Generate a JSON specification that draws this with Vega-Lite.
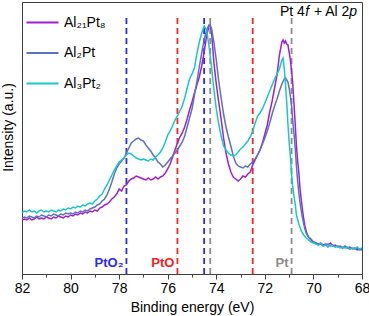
{
"$schema": "https://vega.github.io/schema/vega-lite/v6.json",
"width": 340, "height": 272,
"autosize": {"type": "none"},
"padding": {"left": 22, "top": 2, "right": 7, "bottom": 42},
"background": "white",
"config": {
  "font": "Liberation Sans",
  "view": {"stroke": "#404040", "strokeWidth": 1},
  "axis": {"domainColor": "#404040", "tickColor": "#404040", "labelColor": "black", "titleColor": "black", "grid": false, "labelFont": "Liberation Sans", "titleFont": "Liberation Sans", "titleFontWeight": "normal", "labelFontSize": 14, "titleFontSize": 14}
},
"datasets": {
"refs": [
  {"be": 77.7, "c": "PtO2"}, {"be": 74.5, "c": "PtO2"},
  {"be": 75.6, "c": "PtO"}, {"be": 72.5, "c": "PtO"},
  {"be": 74.25, "c": "Pt"}, {"be": 70.9, "c": "Pt"}
],
"tags": [
  {"t": "PtO₂", "be": 77.7, "c": "PtO2"},
  {"t": "PtO", "be": 75.6, "c": "PtO"},
  {"t": "Pt", "be": 70.9, "c": "Pt"}
],
"note": [{"k": "Pt 4f + Al 2p"}],
"spectra": [
{"s":"Al₂₁Pt₈","be":82.0,"i":54},{"s":"Al₂₁Pt₈","be":81.9,"i":55},{"s":"Al₂₁Pt₈","be":81.8,"i":54},{"s":"Al₂₁Pt₈","be":81.7,"i":56},{"s":"Al₂₁Pt₈","be":81.6,"i":54},{"s":"Al₂₁Pt₈","be":81.5,"i":55},{"s":"Al₂₁Pt₈","be":81.4,"i":57},{"s":"Al₂₁Pt₈","be":81.3,"i":55},{"s":"Al₂₁Pt₈","be":81.2,"i":56},{"s":"Al₂₁Pt₈","be":81.1,"i":55},
{"s":"Al₂₁Pt₈","be":81.0,"i":57},{"s":"Al₂₁Pt₈","be":80.9,"i":56},{"s":"Al₂₁Pt₈","be":80.8,"i":55},{"s":"Al₂₁Pt₈","be":80.7,"i":57},{"s":"Al₂₁Pt₈","be":80.6,"i":56},{"s":"Al₂₁Pt₈","be":80.5,"i":58},{"s":"Al₂₁Pt₈","be":80.4,"i":57},{"s":"Al₂₁Pt₈","be":80.3,"i":56},{"s":"Al₂₁Pt₈","be":80.2,"i":58},{"s":"Al₂₁Pt₈","be":80.1,"i":57},
{"s":"Al₂₁Pt₈","be":80.0,"i":59},{"s":"Al₂₁Pt₈","be":79.9,"i":58},{"s":"Al₂₁Pt₈","be":79.8,"i":60},{"s":"Al₂₁Pt₈","be":79.7,"i":59},{"s":"Al₂₁Pt₈","be":79.6,"i":61},{"s":"Al₂₁Pt₈","be":79.5,"i":60},{"s":"Al₂₁Pt₈","be":79.4,"i":62},{"s":"Al₂₁Pt₈","be":79.3,"i":61},{"s":"Al₂₁Pt₈","be":79.2,"i":63},{"s":"Al₂₁Pt₈","be":79.1,"i":62},
{"s":"Al₂₁Pt₈","be":79.0,"i":64},{"s":"Al₂₁Pt₈","be":78.9,"i":63},{"s":"Al₂₁Pt₈","be":78.8,"i":66},{"s":"Al₂₁Pt₈","be":78.7,"i":67},{"s":"Al₂₁Pt₈","be":78.6,"i":69},{"s":"Al₂₁Pt₈","be":78.5,"i":70},{"s":"Al₂₁Pt₈","be":78.4,"i":72},{"s":"Al₂₁Pt₈","be":78.3,"i":75},{"s":"Al₂₁Pt₈","be":78.2,"i":77},{"s":"Al₂₁Pt₈","be":78.1,"i":80},
{"s":"Al₂₁Pt₈","be":78.0,"i":85},{"s":"Al₂₁Pt₈","be":77.9,"i":83},{"s":"Al₂₁Pt₈","be":77.8,"i":88},{"s":"Al₂₁Pt₈","be":77.7,"i":89},{"s":"Al₂₁Pt₈","be":77.6,"i":93},{"s":"Al₂₁Pt₈","be":77.5,"i":95},{"s":"Al₂₁Pt₈","be":77.4,"i":96},{"s":"Al₂₁Pt₈","be":77.3,"i":98},{"s":"Al₂₁Pt₈","be":77.2,"i":97},{"s":"Al₂₁Pt₈","be":77.1,"i":96},
{"s":"Al₂₁Pt₈","be":77.0,"i":95},{"s":"Al₂₁Pt₈","be":76.9,"i":94},{"s":"Al₂₁Pt₈","be":76.8,"i":96},{"s":"Al₂₁Pt₈","be":76.7,"i":94},{"s":"Al₂₁Pt₈","be":76.6,"i":95},{"s":"Al₂₁Pt₈","be":76.5,"i":97},{"s":"Al₂₁Pt₈","be":76.4,"i":95},{"s":"Al₂₁Pt₈","be":76.3,"i":97},{"s":"Al₂₁Pt₈","be":76.2,"i":98},{"s":"Al₂₁Pt₈","be":76.1,"i":101},
{"s":"Al₂₁Pt₈","be":76.0,"i":105},{"s":"Al₂₁Pt₈","be":75.9,"i":110},{"s":"Al₂₁Pt₈","be":75.8,"i":117},{"s":"Al₂₁Pt₈","be":75.7,"i":124},{"s":"Al₂₁Pt₈","be":75.6,"i":131},{"s":"Al₂₁Pt₈","be":75.5,"i":137},{"s":"Al₂₁Pt₈","be":75.4,"i":141},{"s":"Al₂₁Pt₈","be":75.3,"i":147},{"s":"Al₂₁Pt₈","be":75.2,"i":155},{"s":"Al₂₁Pt₈","be":75.1,"i":164},
{"s":"Al₂₁Pt₈","be":75.0,"i":172},{"s":"Al₂₁Pt₈","be":74.9,"i":181},{"s":"Al₂₁Pt₈","be":74.8,"i":189},{"s":"Al₂₁Pt₈","be":74.7,"i":197},{"s":"Al₂₁Pt₈","be":74.6,"i":208},{"s":"Al₂₁Pt₈","be":74.5,"i":222},{"s":"Al₂₁Pt₈","be":74.4,"i":238},{"s":"Al₂₁Pt₈","be":74.3,"i":248},{"s":"Al₂₁Pt₈","be":74.25,"i":249},{"s":"Al₂₁Pt₈","be":74.2,"i":244},
{"s":"Al₂₁Pt₈","be":74.1,"i":212},{"s":"Al₂₁Pt₈","be":74.0,"i":190},{"s":"Al₂₁Pt₈","be":73.9,"i":172},{"s":"Al₂₁Pt₈","be":73.8,"i":155},{"s":"Al₂₁Pt₈","be":73.7,"i":136},{"s":"Al₂₁Pt₈","be":73.6,"i":121},{"s":"Al₂₁Pt₈","be":73.5,"i":110},{"s":"Al₂₁Pt₈","be":73.4,"i":102},{"s":"Al₂₁Pt₈","be":73.3,"i":97},{"s":"Al₂₁Pt₈","be":73.2,"i":95},
{"s":"Al₂₁Pt₈","be":73.1,"i":93},{"s":"Al₂₁Pt₈","be":73.0,"i":95},{"s":"Al₂₁Pt₈","be":72.9,"i":98},{"s":"Al₂₁Pt₈","be":72.8,"i":97},{"s":"Al₂₁Pt₈","be":72.7,"i":100},{"s":"Al₂₁Pt₈","be":72.6,"i":102},{"s":"Al₂₁Pt₈","be":72.5,"i":109},{"s":"Al₂₁Pt₈","be":72.4,"i":114},{"s":"Al₂₁Pt₈","be":72.3,"i":119},{"s":"Al₂₁Pt₈","be":72.2,"i":124},
{"s":"Al₂₁Pt₈","be":72.1,"i":131},{"s":"Al₂₁Pt₈","be":72.0,"i":140},{"s":"Al₂₁Pt₈","be":71.9,"i":149},{"s":"Al₂₁Pt₈","be":71.8,"i":162},{"s":"Al₂₁Pt₈","be":71.7,"i":173},{"s":"Al₂₁Pt₈","be":71.6,"i":186},{"s":"Al₂₁Pt₈","be":71.5,"i":199},{"s":"Al₂₁Pt₈","be":71.4,"i":219},{"s":"Al₂₁Pt₈","be":71.3,"i":232},{"s":"Al₂₁Pt₈","be":71.25,"i":234},
{"s":"Al₂₁Pt₈","be":71.2,"i":231},{"s":"Al₂₁Pt₈","be":71.15,"i":233},{"s":"Al₂₁Pt₈","be":71.1,"i":230},{"s":"Al₂₁Pt₈","be":71.05,"i":229},{"s":"Al₂₁Pt₈","be":71.0,"i":222},{"s":"Al₂₁Pt₈","be":70.95,"i":214},{"s":"Al₂₁Pt₈","be":70.9,"i":203},{"s":"Al₂₁Pt₈","be":70.85,"i":190},{"s":"Al₂₁Pt₈","be":70.8,"i":170},{"s":"Al₂₁Pt₈","be":70.75,"i":150},
{"s":"Al₂₁Pt₈","be":70.7,"i":128},{"s":"Al₂₁Pt₈","be":70.65,"i":113},{"s":"Al₂₁Pt₈","be":70.6,"i":101},{"s":"Al₂₁Pt₈","be":70.55,"i":85},{"s":"Al₂₁Pt₈","be":70.5,"i":74},{"s":"Al₂₁Pt₈","be":70.45,"i":64},{"s":"Al₂₁Pt₈","be":70.4,"i":55},{"s":"Al₂₁Pt₈","be":70.35,"i":48},{"s":"Al₂₁Pt₈","be":70.3,"i":43},{"s":"Al₂₁Pt₈","be":70.25,"i":39},
{"s":"Al₂₁Pt₈","be":70.2,"i":37},{"s":"Al₂₁Pt₈","be":70.1,"i":34},{"s":"Al₂₁Pt₈","be":70.0,"i":32},{"s":"Al₂₁Pt₈","be":69.9,"i":31},{"s":"Al₂₁Pt₈","be":69.8,"i":30},{"s":"Al₂₁Pt₈","be":69.7,"i":31},{"s":"Al₂₁Pt₈","be":69.6,"i":29},{"s":"Al₂₁Pt₈","be":69.5,"i":30},{"s":"Al₂₁Pt₈","be":69.4,"i":29},{"s":"Al₂₁Pt₈","be":69.3,"i":31},
{"s":"Al₂₁Pt₈","be":69.2,"i":28},{"s":"Al₂₁Pt₈","be":69.1,"i":29},{"s":"Al₂₁Pt₈","be":69.0,"i":27},{"s":"Al₂₁Pt₈","be":68.9,"i":28},{"s":"Al₂₁Pt₈","be":68.8,"i":26},{"s":"Al₂₁Pt₈","be":68.7,"i":27},{"s":"Al₂₁Pt₈","be":68.6,"i":26},{"s":"Al₂₁Pt₈","be":68.5,"i":27},{"s":"Al₂₁Pt₈","be":68.4,"i":25},{"s":"Al₂₁Pt₈","be":68.3,"i":26},
{"s":"Al₂₁Pt₈","be":68.2,"i":24},{"s":"Al₂₁Pt₈","be":68.1,"i":25},{"s":"Al₂₁Pt₈","be":68.0,"i":24},
{"s":"Al₂Pt","be":82.0,"i":56},{"s":"Al₂Pt","be":81.9,"i":57},{"s":"Al₂Pt","be":81.8,"i":56},{"s":"Al₂Pt","be":81.7,"i":58},{"s":"Al₂Pt","be":81.6,"i":57},{"s":"Al₂Pt","be":81.5,"i":56},{"s":"Al₂Pt","be":81.4,"i":58},{"s":"Al₂Pt","be":81.3,"i":57},{"s":"Al₂Pt","be":81.2,"i":59},{"s":"Al₂Pt","be":81.1,"i":58},
{"s":"Al₂Pt","be":81.0,"i":57},{"s":"Al₂Pt","be":80.9,"i":59},{"s":"Al₂Pt","be":80.8,"i":58},{"s":"Al₂Pt","be":80.7,"i":60},{"s":"Al₂Pt","be":80.6,"i":59},{"s":"Al₂Pt","be":80.5,"i":58},{"s":"Al₂Pt","be":80.4,"i":60},{"s":"Al₂Pt","be":80.3,"i":59},{"s":"Al₂Pt","be":80.2,"i":61},{"s":"Al₂Pt","be":80.1,"i":60},
{"s":"Al₂Pt","be":80.0,"i":61},{"s":"Al₂Pt","be":79.9,"i":60},{"s":"Al₂Pt","be":79.8,"i":62},{"s":"Al₂Pt","be":79.7,"i":61},{"s":"Al₂Pt","be":79.6,"i":63},{"s":"Al₂Pt","be":79.5,"i":62},{"s":"Al₂Pt","be":79.4,"i":64},{"s":"Al₂Pt","be":79.3,"i":63},{"s":"Al₂Pt","be":79.2,"i":65},{"s":"Al₂Pt","be":79.1,"i":66},
{"s":"Al₂Pt","be":79.0,"i":67},{"s":"Al₂Pt","be":78.9,"i":69},{"s":"Al₂Pt","be":78.8,"i":70},{"s":"Al₂Pt","be":78.7,"i":73},{"s":"Al₂Pt","be":78.6,"i":75},{"s":"Al₂Pt","be":78.5,"i":79},{"s":"Al₂Pt","be":78.4,"i":85},{"s":"Al₂Pt","be":78.3,"i":92},{"s":"Al₂Pt","be":78.2,"i":100},{"s":"Al₂Pt","be":78.1,"i":106},
{"s":"Al₂Pt","be":78.0,"i":110},{"s":"Al₂Pt","be":77.9,"i":113},{"s":"Al₂Pt","be":77.8,"i":116},{"s":"Al₂Pt","be":77.7,"i":121},{"s":"Al₂Pt","be":77.6,"i":126},{"s":"Al₂Pt","be":77.5,"i":131},{"s":"Al₂Pt","be":77.4,"i":133},{"s":"Al₂Pt","be":77.3,"i":135},{"s":"Al₂Pt","be":77.2,"i":136},{"s":"Al₂Pt","be":77.1,"i":134},
{"s":"Al₂Pt","be":77.0,"i":133},{"s":"Al₂Pt","be":76.9,"i":129},{"s":"Al₂Pt","be":76.8,"i":126},{"s":"Al₂Pt","be":76.7,"i":123},{"s":"Al₂Pt","be":76.6,"i":119},{"s":"Al₂Pt","be":76.5,"i":116},{"s":"Al₂Pt","be":76.4,"i":112},{"s":"Al₂Pt","be":76.3,"i":110},{"s":"Al₂Pt","be":76.2,"i":107},{"s":"Al₂Pt","be":76.1,"i":109},
{"s":"Al₂Pt","be":76.0,"i":112},{"s":"Al₂Pt","be":75.9,"i":115},{"s":"Al₂Pt","be":75.8,"i":118},{"s":"Al₂Pt","be":75.7,"i":121},{"s":"Al₂Pt","be":75.6,"i":124},{"s":"Al₂Pt","be":75.5,"i":128},{"s":"Al₂Pt","be":75.4,"i":132},{"s":"Al₂Pt","be":75.3,"i":138},{"s":"Al₂Pt","be":75.2,"i":147},{"s":"Al₂Pt","be":75.1,"i":156},
{"s":"Al₂Pt","be":75.0,"i":165},{"s":"Al₂Pt","be":74.9,"i":179},{"s":"Al₂Pt","be":74.8,"i":192},{"s":"Al₂Pt","be":74.7,"i":207},{"s":"Al₂Pt","be":74.6,"i":221},{"s":"Al₂Pt","be":74.5,"i":234},{"s":"Al₂Pt","be":74.4,"i":244},{"s":"Al₂Pt","be":74.3,"i":249},{"s":"Al₂Pt","be":74.2,"i":246},{"s":"Al₂Pt","be":74.1,"i":232},
{"s":"Al₂Pt","be":74.0,"i":214},{"s":"Al₂Pt","be":73.9,"i":193},{"s":"Al₂Pt","be":73.8,"i":176},{"s":"Al₂Pt","be":73.7,"i":160},{"s":"Al₂Pt","be":73.6,"i":147},{"s":"Al₂Pt","be":73.5,"i":137},{"s":"Al₂Pt","be":73.4,"i":128},{"s":"Al₂Pt","be":73.3,"i":118},{"s":"Al₂Pt","be":73.2,"i":111},{"s":"Al₂Pt","be":73.1,"i":108},
{"s":"Al₂Pt","be":73.0,"i":107},{"s":"Al₂Pt","be":72.9,"i":106},{"s":"Al₂Pt","be":72.8,"i":108},{"s":"Al₂Pt","be":72.7,"i":107},{"s":"Al₂Pt","be":72.6,"i":110},{"s":"Al₂Pt","be":72.5,"i":112},{"s":"Al₂Pt","be":72.4,"i":115},{"s":"Al₂Pt","be":72.3,"i":119},{"s":"Al₂Pt","be":72.2,"i":124},{"s":"Al₂Pt","be":72.1,"i":130},
{"s":"Al₂Pt","be":72.0,"i":136},{"s":"Al₂Pt","be":71.9,"i":143},{"s":"Al₂Pt","be":71.8,"i":151},{"s":"Al₂Pt","be":71.7,"i":160},{"s":"Al₂Pt","be":71.6,"i":168},{"s":"Al₂Pt","be":71.5,"i":175},{"s":"Al₂Pt","be":71.4,"i":183},{"s":"Al₂Pt","be":71.3,"i":190},{"s":"Al₂Pt","be":71.2,"i":195},{"s":"Al₂Pt","be":71.15,"i":196},
{"s":"Al₂Pt","be":71.1,"i":194},{"s":"Al₂Pt","be":71.05,"i":192},{"s":"Al₂Pt","be":71.0,"i":186},{"s":"Al₂Pt","be":70.95,"i":178},{"s":"Al₂Pt","be":70.9,"i":168},{"s":"Al₂Pt","be":70.85,"i":153},{"s":"Al₂Pt","be":70.8,"i":140},{"s":"Al₂Pt","be":70.75,"i":126},{"s":"Al₂Pt","be":70.7,"i":108},{"s":"Al₂Pt","be":70.65,"i":93},
{"s":"Al₂Pt","be":70.6,"i":81},{"s":"Al₂Pt","be":70.55,"i":71},{"s":"Al₂Pt","be":70.5,"i":63},{"s":"Al₂Pt","be":70.45,"i":56},{"s":"Al₂Pt","be":70.4,"i":50},{"s":"Al₂Pt","be":70.35,"i":45},{"s":"Al₂Pt","be":70.3,"i":41},{"s":"Al₂Pt","be":70.2,"i":37},{"s":"Al₂Pt","be":70.1,"i":35},{"s":"Al₂Pt","be":70.0,"i":32},
{"s":"Al₂Pt","be":69.9,"i":31},{"s":"Al₂Pt","be":69.8,"i":29},{"s":"Al₂Pt","be":69.7,"i":30},{"s":"Al₂Pt","be":69.6,"i":28},{"s":"Al₂Pt","be":69.5,"i":29},{"s":"Al₂Pt","be":69.4,"i":30},{"s":"Al₂Pt","be":69.3,"i":28},{"s":"Al₂Pt","be":69.2,"i":29},{"s":"Al₂Pt","be":69.1,"i":27},{"s":"Al₂Pt","be":69.0,"i":28},
{"s":"Al₂Pt","be":68.9,"i":27},{"s":"Al₂Pt","be":68.8,"i":26},{"s":"Al₂Pt","be":68.7,"i":28},{"s":"Al₂Pt","be":68.6,"i":26},{"s":"Al₂Pt","be":68.5,"i":25},{"s":"Al₂Pt","be":68.4,"i":26},{"s":"Al₂Pt","be":68.3,"i":25},{"s":"Al₂Pt","be":68.2,"i":26},{"s":"Al₂Pt","be":68.1,"i":24},{"s":"Al₂Pt","be":68.0,"i":25},
{"s":"Al₃Pt₂","be":82.0,"i":61},{"s":"Al₃Pt₂","be":81.9,"i":63},{"s":"Al₃Pt₂","be":81.8,"i":62},{"s":"Al₃Pt₂","be":81.7,"i":64},{"s":"Al₃Pt₂","be":81.6,"i":62},{"s":"Al₃Pt₂","be":81.5,"i":63},{"s":"Al₃Pt₂","be":81.4,"i":61},{"s":"Al₃Pt₂","be":81.3,"i":63},{"s":"Al₃Pt₂","be":81.2,"i":64},{"s":"Al₃Pt₂","be":81.1,"i":62},
{"s":"Al₃Pt₂","be":81.0,"i":63},{"s":"Al₃Pt₂","be":80.9,"i":62},{"s":"Al₃Pt₂","be":80.8,"i":64},{"s":"Al₃Pt₂","be":80.7,"i":63},{"s":"Al₃Pt₂","be":80.6,"i":62},{"s":"Al₃Pt₂","be":80.5,"i":64},{"s":"Al₃Pt₂","be":80.4,"i":63},{"s":"Al₃Pt₂","be":80.3,"i":65},{"s":"Al₃Pt₂","be":80.2,"i":64},{"s":"Al₃Pt₂","be":80.1,"i":66},
{"s":"Al₃Pt₂","be":80.0,"i":65},{"s":"Al₃Pt₂","be":79.9,"i":67},{"s":"Al₃Pt₂","be":79.8,"i":66},{"s":"Al₃Pt₂","be":79.7,"i":68},{"s":"Al₃Pt₂","be":79.6,"i":67},{"s":"Al₃Pt₂","be":79.5,"i":69},{"s":"Al₃Pt₂","be":79.4,"i":68},{"s":"Al₃Pt₂","be":79.3,"i":70},{"s":"Al₃Pt₂","be":79.2,"i":71},{"s":"Al₃Pt₂","be":79.1,"i":70},
{"s":"Al₃Pt₂","be":79.0,"i":73},{"s":"Al₃Pt₂","be":78.9,"i":75},{"s":"Al₃Pt₂","be":78.8,"i":78},{"s":"Al₃Pt₂","be":78.7,"i":80},{"s":"Al₃Pt₂","be":78.6,"i":85},{"s":"Al₃Pt₂","be":78.5,"i":89},{"s":"Al₃Pt₂","be":78.4,"i":94},{"s":"Al₃Pt₂","be":78.3,"i":99},{"s":"Al₃Pt₂","be":78.2,"i":104},{"s":"Al₃Pt₂","be":78.1,"i":108},
{"s":"Al₃Pt₂","be":78.0,"i":112},{"s":"Al₃Pt₂","be":77.9,"i":114},{"s":"Al₃Pt₂","be":77.8,"i":116},{"s":"Al₃Pt₂","be":77.7,"i":119},{"s":"Al₃Pt₂","be":77.6,"i":121},{"s":"Al₃Pt₂","be":77.5,"i":120},{"s":"Al₃Pt₂","be":77.4,"i":118},{"s":"Al₃Pt₂","be":77.3,"i":116},{"s":"Al₃Pt₂","be":77.2,"i":115},{"s":"Al₃Pt₂","be":77.1,"i":114},
{"s":"Al₃Pt₂","be":77.0,"i":115},{"s":"Al₃Pt₂","be":76.9,"i":114},{"s":"Al₃Pt₂","be":76.8,"i":113},{"s":"Al₃Pt₂","be":76.7,"i":115},{"s":"Al₃Pt₂","be":76.6,"i":114},{"s":"Al₃Pt₂","be":76.5,"i":117},{"s":"Al₃Pt₂","be":76.4,"i":119},{"s":"Al₃Pt₂","be":76.3,"i":122},{"s":"Al₃Pt₂","be":76.2,"i":126},{"s":"Al₃Pt₂","be":76.1,"i":132},
{"s":"Al₃Pt₂","be":76.0,"i":139},{"s":"Al₃Pt₂","be":75.9,"i":143},{"s":"Al₃Pt₂","be":75.8,"i":148},{"s":"Al₃Pt₂","be":75.7,"i":154},{"s":"Al₃Pt₂","be":75.6,"i":158},{"s":"Al₃Pt₂","be":75.5,"i":163},{"s":"Al₃Pt₂","be":75.4,"i":168},{"s":"Al₃Pt₂","be":75.3,"i":176},{"s":"Al₃Pt₂","be":75.2,"i":186},{"s":"Al₃Pt₂","be":75.1,"i":195},
{"s":"Al₃Pt₂","be":75.0,"i":200},{"s":"Al₃Pt₂","be":74.9,"i":206},{"s":"Al₃Pt₂","be":74.8,"i":220},{"s":"Al₃Pt₂","be":74.7,"i":232},{"s":"Al₃Pt₂","be":74.6,"i":241},{"s":"Al₃Pt₂","be":74.5,"i":248},{"s":"Al₃Pt₂","be":74.4,"i":244},{"s":"Al₃Pt₂","be":74.3,"i":228},{"s":"Al₃Pt₂","be":74.2,"i":208},{"s":"Al₃Pt₂","be":74.1,"i":185},
{"s":"Al₃Pt₂","be":74.0,"i":165},{"s":"Al₃Pt₂","be":73.9,"i":150},{"s":"Al₃Pt₂","be":73.8,"i":138},{"s":"Al₃Pt₂","be":73.7,"i":128},{"s":"Al₃Pt₂","be":73.6,"i":124},{"s":"Al₃Pt₂","be":73.5,"i":121},{"s":"Al₃Pt₂","be":73.4,"i":119},{"s":"Al₃Pt₂","be":73.3,"i":118},{"s":"Al₃Pt₂","be":73.2,"i":119},{"s":"Al₃Pt₂","be":73.1,"i":122},
{"s":"Al₃Pt₂","be":73.0,"i":125},{"s":"Al₃Pt₂","be":72.9,"i":127},{"s":"Al₃Pt₂","be":72.8,"i":130},{"s":"Al₃Pt₂","be":72.7,"i":133},{"s":"Al₃Pt₂","be":72.6,"i":137},{"s":"Al₃Pt₂","be":72.5,"i":143},{"s":"Al₃Pt₂","be":72.4,"i":151},{"s":"Al₃Pt₂","be":72.3,"i":158},{"s":"Al₃Pt₂","be":72.2,"i":161},{"s":"Al₃Pt₂","be":72.1,"i":165},
{"s":"Al₃Pt₂","be":72.0,"i":171},{"s":"Al₃Pt₂","be":71.9,"i":177},{"s":"Al₃Pt₂","be":71.8,"i":183},{"s":"Al₃Pt₂","be":71.7,"i":189},{"s":"Al₃Pt₂","be":71.6,"i":195},{"s":"Al₃Pt₂","be":71.5,"i":200},{"s":"Al₃Pt₂","be":71.4,"i":205},{"s":"Al₃Pt₂","be":71.3,"i":214},{"s":"Al₃Pt₂","be":71.25,"i":216},{"s":"Al₃Pt₂","be":71.2,"i":205},
{"s":"Al₃Pt₂","be":71.15,"i":190},{"s":"Al₃Pt₂","be":71.1,"i":172},{"s":"Al₃Pt₂","be":71.05,"i":150},{"s":"Al₃Pt₂","be":71.0,"i":132},{"s":"Al₃Pt₂","be":70.95,"i":118},{"s":"Al₃Pt₂","be":70.9,"i":100},{"s":"Al₃Pt₂","be":70.85,"i":87},{"s":"Al₃Pt₂","be":70.8,"i":78},{"s":"Al₃Pt₂","be":70.75,"i":70},{"s":"Al₃Pt₂","be":70.7,"i":59},
{"s":"Al₃Pt₂","be":70.6,"i":50},{"s":"Al₃Pt₂","be":70.5,"i":43},{"s":"Al₃Pt₂","be":70.4,"i":39},{"s":"Al₃Pt₂","be":70.3,"i":36},{"s":"Al₃Pt₂","be":70.2,"i":34},{"s":"Al₃Pt₂","be":70.1,"i":32},{"s":"Al₃Pt₂","be":70.0,"i":31},{"s":"Al₃Pt₂","be":69.9,"i":30},{"s":"Al₃Pt₂","be":69.8,"i":29},{"s":"Al₃Pt₂","be":69.7,"i":31},
{"s":"Al₃Pt₂","be":69.6,"i":28},{"s":"Al₃Pt₂","be":69.5,"i":29},{"s":"Al₃Pt₂","be":69.4,"i":27},{"s":"Al₃Pt₂","be":69.3,"i":29},{"s":"Al₃Pt₂","be":69.2,"i":28},{"s":"Al₃Pt₂","be":69.1,"i":27},{"s":"Al₃Pt₂","be":69.0,"i":28},{"s":"Al₃Pt₂","be":68.9,"i":26},{"s":"Al₃Pt₂","be":68.8,"i":27},{"s":"Al₃Pt₂","be":68.7,"i":26},
{"s":"Al₃Pt₂","be":68.6,"i":27},{"s":"Al₃Pt₂","be":68.5,"i":25},{"s":"Al₃Pt₂","be":68.4,"i":26},{"s":"Al₃Pt₂","be":68.3,"i":25},{"s":"Al₃Pt₂","be":68.2,"i":27},{"s":"Al₃Pt₂","be":68.1,"i":25},{"s":"Al₃Pt₂","be":68.0,"i":26}
]
},
"layer": [
  {
    "layer": [
      {
        "data": {"name": "refs"},
        "mark": {"type": "rule", "strokeDash": [6, 4], "strokeWidth": 1.8},
        "encoding": {
          "x": {"field": "be", "type": "quantitative", "scale": {"domain": [68, 82], "reverse": true, "nice": false, "zero": false},
                "axis": {"values": [82, 80, 78, 76, 74, 72, 70, 68], "title": "Binding energy (eV)", "labelFontSize": 14, "titleFontSize": 14, "tickSize": 5, "labelPadding": 2, "titlePadding": 5, "format": "d", "labelFlush": false}},
          "y": {"datum": 0, "type": "quantitative", "scale": {"domain": [0, 272], "nice": false, "zero": false},
                "axis": {"title": "Intensity (a.u.)", "labels": false, "ticks": false, "titleFontSize": 14, "titlePadding": 7, "titleY": 125}},
          "y2": {"datum": 256},
          "stroke": {"field": "c", "type": "nominal", "scale": {"domain": ["PtO2", "PtO", "Pt"], "range": ["#2a2af2", "#f22424", "#8c8c8c"]}, "legend": null}
        }
      },
      {
        "data": {"name": "spectra"},
        "mark": {"type": "line", "strokeWidth": 1.5},
        "encoding": {
          "x": {"field": "be", "type": "quantitative"},
          "y": {"field": "i", "type": "quantitative"},
          "color": {"field": "s", "type": "nominal",
            "scale": {"domain": ["Al₂₁Pt₈", "Al₂Pt", "Al₃Pt₂"], "range": ["#a020d0", "#5b72c2", "#18c8c8"]},
            "legend": {"title": null, "orient": "top-left", "offset": 3, "padding": 0, "symbolType": "stroke", "symbolSize": 1024, "symbolStrokeWidth": 2.2, "labelFontSize": 14, "labelFont": "Liberation Sans", "labelColor": "black", "labelOffset": 4, "rowPadding": 5.5}}
        }
      },
      {
        "data": {"name": "tags"},
        "mark": {"type": "text", "align": "right", "baseline": "middle", "dx": -3, "fontSize": 13, "fontWeight": "bold", "font": "Liberation Sans"},
        "encoding": {
          "x": {"field": "be", "type": "quantitative"},
          "y": {"datum": 11, "type": "quantitative"},
          "text": {"field": "t"},
          "fill": {"field": "c", "type": "nominal", "scale": {"domain": ["PtO2", "PtO", "Pt"], "range": ["#2a2af2", "#f22424", "#8c8c8c"]}, "legend": null}
        }
      },
      {
        "data": {"name": "note"},
        "mark": {"type": "text", "text": "p", "align": "right", "baseline": "middle", "fontSize": 14, "fontStyle": "italic", "font": "Liberation Sans", "color": "black"},
        "encoding": {"x": {"datum": 68.2, "type": "quantitative"}, "y": {"datum": 262, "type": "quantitative"}}
      },
      {
        "data": {"name": "note"},
        "mark": {"type": "text", "text": " + Al 2", "align": "right", "baseline": "middle", "dx": -7.8, "fontSize": 14, "font": "Liberation Sans", "color": "black"},
        "encoding": {"x": {"datum": 68.2, "type": "quantitative"}, "y": {"datum": 262, "type": "quantitative"}}
      },
      {
        "data": {"name": "note"},
        "mark": {"type": "text", "text": "f", "align": "right", "baseline": "middle", "dx": -47.9, "fontSize": 14, "fontStyle": "italic", "font": "Liberation Sans", "color": "black"},
        "encoding": {"x": {"datum": 68.2, "type": "quantitative"}, "y": {"datum": 262, "type": "quantitative"}}
      },
      {
        "data": {"name": "note"},
        "mark": {"type": "text", "text": "Pt 4", "align": "right", "baseline": "middle", "dx": -52.3, "fontSize": 14, "font": "Liberation Sans", "color": "black"},
        "encoding": {"x": {"datum": 68.2, "type": "quantitative"}, "y": {"datum": 262, "type": "quantitative"}}
      }
    ]
  },
  {
    "data": {"name": "refs"},
    "mark": {"type": "rule", "opacity": 0},
    "encoding": {
      "x": {"field": "be", "type": "quantitative",
            "axis": {"orient": "bottom", "values": [81, 79, 77, 75, 73, 71, 69], "labels": false, "domain": false, "tickSize": 3, "title": null}},
      "y": {"datum": 0, "type": "quantitative"},
      "y2": {"datum": 256}
    }
  }
],
"resolve": {"axis": {"x": "independent"}}
}
